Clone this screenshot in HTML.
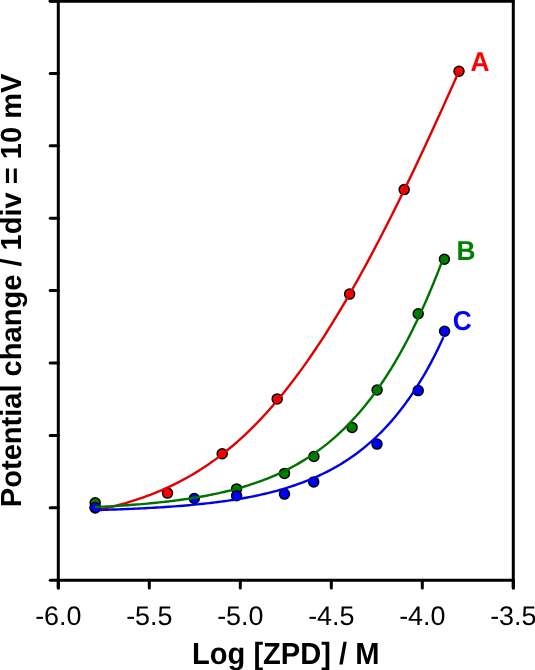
<!DOCTYPE html>
<html><head><meta charset="utf-8"><style>
html,body{margin:0;padding:0;background:#fff;}
svg{display:block;will-change:transform;}
text{font-family:"Liberation Sans",sans-serif;text-rendering:geometricPrecision;}
</style></head><body>
<svg width="535" height="670" viewBox="0 0 535 670">
<rect width="535" height="670" fill="#fff"/>
<g stroke="#000" stroke-width="3" stroke-linecap="round" fill="none">
<line x1="58.3" y1="1.2" x2="58.3" y2="588"/>
<line x1="58.3" y1="580.2" x2="513.3" y2="580.2"/>
<line x1="50.2" y1="1.2" x2="513.3" y2="1.2"/>
<line x1="513.3" y1="1.2" x2="513.3" y2="588"/>
<line x1="50.2" y1="580.2" x2="58.3" y2="580.2"/>
<line x1="50.2" y1="507.8" x2="58.3" y2="507.8"/>
<line x1="50.2" y1="435.4" x2="58.3" y2="435.4"/>
<line x1="50.2" y1="363.0" x2="58.3" y2="363.0"/>
<line x1="50.2" y1="290.6" x2="58.3" y2="290.6"/>
<line x1="50.2" y1="218.2" x2="58.3" y2="218.2"/>
<line x1="50.2" y1="145.8" x2="58.3" y2="145.8"/>
<line x1="50.2" y1="73.4" x2="58.3" y2="73.4"/>
<line x1="50.2" y1="1.0" x2="58.3" y2="1.0"/>
<line x1="58.3" y1="580.2" x2="58.3" y2="588"/>
<line x1="149.3" y1="580.2" x2="149.3" y2="588"/>
<line x1="240.3" y1="580.2" x2="240.3" y2="588"/>
<line x1="331.3" y1="580.2" x2="331.3" y2="588"/>
<line x1="422.3" y1="580.2" x2="422.3" y2="588"/>
<line x1="513.3" y1="580.2" x2="513.3" y2="588"/>
</g>
<circle cx="95.2" cy="508.0" r="5.0" fill="#ff0000" stroke="#000" stroke-width="1.5"/>
<circle cx="167.5" cy="493.1" r="5.0" fill="#ff0000" stroke="#000" stroke-width="1.5"/>
<circle cx="222.2" cy="453.8" r="5.0" fill="#ff0000" stroke="#000" stroke-width="1.5"/>
<circle cx="277.2" cy="398.9" r="5.0" fill="#ff0000" stroke="#000" stroke-width="1.5"/>
<circle cx="349.6" cy="294.1" r="5.0" fill="#ff0000" stroke="#000" stroke-width="1.5"/>
<circle cx="404.2" cy="189.6" r="5.0" fill="#ff0000" stroke="#000" stroke-width="1.5"/>
<circle cx="459.0" cy="71.3" r="5.0" fill="#ff0000" stroke="#000" stroke-width="1.5"/>
<path d="M95.20,510.60 L98.26,509.95 L101.31,509.29 L104.37,508.60 L107.43,507.89 L110.49,507.15 L113.54,506.38 L116.60,505.59 L119.66,504.77 L122.71,503.92 L125.77,503.04 L128.83,502.13 L131.89,501.18 L134.94,500.21 L138.00,499.20 L141.06,498.16 L144.11,497.08 L147.17,495.97 L150.23,494.82 L153.29,493.63 L156.34,492.40 L159.40,491.13 L162.46,489.82 L165.51,488.47 L168.57,487.07 L171.63,485.63 L174.69,484.14 L177.74,482.61 L180.80,481.02 L183.86,479.39 L186.91,477.71 L189.97,475.98 L193.03,474.19 L196.09,472.35 L199.14,470.46 L202.20,468.51 L205.26,466.50 L208.31,464.44 L211.37,462.31 L214.43,460.13 L217.49,457.88 L220.54,455.58 L223.60,453.21 L226.66,450.77 L229.71,448.27 L232.77,445.71 L235.83,443.08 L238.89,440.38 L241.94,437.62 L245.00,434.78 L248.06,431.88 L251.11,428.90 L254.17,425.85 L257.23,422.74 L260.29,419.55 L263.34,416.29 L266.40,412.95 L269.46,409.54 L272.51,406.06 L275.57,402.51 L278.63,398.88 L281.69,395.17 L284.74,391.39 L287.80,387.54 L290.86,383.61 L293.91,379.61 L296.97,375.54 L300.03,371.39 L303.09,367.16 L306.14,362.87 L309.20,358.49 L312.26,354.05 L315.31,349.54 L318.37,344.95 L321.43,340.29 L324.49,335.56 L327.54,330.76 L330.60,325.89 L333.66,320.95 L336.71,315.94 L339.77,310.87 L342.83,305.73 L345.89,300.52 L348.94,295.25 L352.00,289.92 L355.06,284.52 L358.11,279.06 L361.17,273.54 L364.23,267.96 L367.29,262.32 L370.34,256.62 L373.40,250.87 L376.46,245.06 L379.51,239.19 L382.57,233.28 L385.63,227.31 L388.69,221.29 L391.74,215.21 L394.80,209.09 L397.86,202.93 L400.91,196.71 L403.97,190.45 L407.03,184.14 L410.09,177.79 L413.14,171.40 L416.20,164.97 L419.26,158.50 L422.31,151.98 L425.37,145.43 L428.43,138.84 L431.49,132.22 L434.54,125.56 L437.60,118.87 L440.66,112.14 L443.71,105.38 L446.77,98.59 L449.83,91.77 L452.89,84.91 L455.94,78.03 L459.00,71.13" stroke="#e00000" fill="none" stroke-width="2.4" stroke-linejoin="round"/>
<circle cx="95.2" cy="502.7" r="5.0" fill="#008000" stroke="#000" stroke-width="1.5"/>
<circle cx="236.6" cy="488.9" r="5.0" fill="#008000" stroke="#000" stroke-width="1.5"/>
<circle cx="284.5" cy="473.4" r="5.0" fill="#008000" stroke="#000" stroke-width="1.5"/>
<circle cx="313.9" cy="456.5" r="5.0" fill="#008000" stroke="#000" stroke-width="1.5"/>
<circle cx="352.1" cy="427.4" r="5.0" fill="#008000" stroke="#000" stroke-width="1.5"/>
<circle cx="377.1" cy="390.0" r="5.0" fill="#008000" stroke="#000" stroke-width="1.5"/>
<circle cx="418.2" cy="313.7" r="5.0" fill="#008000" stroke="#000" stroke-width="1.5"/>
<circle cx="444.4" cy="259.3" r="5.0" fill="#008000" stroke="#000" stroke-width="1.5"/>
<circle cx="95.2" cy="507.4" r="5.0" fill="#0000ff" stroke="#000" stroke-width="1.5"/>
<circle cx="194.3" cy="498.5" r="5.0" fill="#0000ff" stroke="#000" stroke-width="1.5"/>
<circle cx="236.6" cy="495.8" r="5.0" fill="#0000ff" stroke="#000" stroke-width="1.5"/>
<circle cx="284.5" cy="494.1" r="5.0" fill="#0000ff" stroke="#000" stroke-width="1.5"/>
<circle cx="313.7" cy="481.9" r="5.0" fill="#0000ff" stroke="#000" stroke-width="1.5"/>
<circle cx="377.0" cy="444.1" r="5.0" fill="#0000ff" stroke="#000" stroke-width="1.5"/>
<circle cx="418.2" cy="390.6" r="5.0" fill="#0000ff" stroke="#000" stroke-width="1.5"/>
<circle cx="444.6" cy="331.2" r="5.0" fill="#0000ff" stroke="#000" stroke-width="1.5"/>
<g fill="none" stroke-width="2.4" stroke-linejoin="round">
<path d="M94.60,507.09 L97.54,506.95 L100.48,506.80 L103.42,506.65 L106.36,506.50 L109.30,506.33 L112.24,506.17 L115.18,505.99 L118.12,505.81 L121.06,505.62 L123.99,505.43 L126.93,505.22 L129.87,505.01 L132.81,504.80 L135.75,504.57 L138.69,504.34 L141.63,504.09 L144.57,503.84 L147.51,503.58 L150.45,503.31 L153.39,503.02 L156.33,502.73 L159.27,502.43 L162.21,502.11 L165.15,501.79 L168.09,501.45 L171.03,501.10 L173.97,500.73 L176.91,500.35 L179.85,499.96 L182.78,499.55 L185.72,499.13 L188.66,498.69 L191.60,498.24 L194.54,497.77 L197.48,497.28 L200.42,496.77 L203.36,496.25 L206.30,495.70 L209.24,495.14 L212.18,494.55 L215.12,493.94 L218.06,493.31 L221.00,492.66 L223.94,491.98 L226.88,491.28 L229.82,490.55 L232.76,489.80 L235.70,489.02 L238.64,488.20 L241.57,487.36 L244.51,486.49 L247.45,485.59 L250.39,484.65 L253.33,483.68 L256.27,482.67 L259.21,481.63 L262.15,480.55 L265.09,479.43 L268.03,478.27 L270.97,477.07 L273.91,475.82 L276.85,474.53 L279.79,473.19 L282.73,471.81 L285.67,470.38 L288.61,468.89 L291.55,467.35 L294.49,465.76 L297.43,464.11 L300.36,462.40 L303.30,460.64 L306.24,458.81 L309.18,456.91 L312.12,454.95 L315.06,452.92 L318.00,450.83 L320.94,448.65 L323.88,446.41 L326.82,444.08 L329.76,441.68 L332.70,439.20 L335.64,436.63 L338.58,433.97 L341.52,431.22 L344.46,428.38 L347.40,425.45 L350.34,422.42 L353.28,419.28 L356.22,416.05 L359.15,412.70 L362.09,409.25 L365.03,405.68 L367.97,402.00 L370.91,398.21 L373.85,394.28 L376.79,390.24 L379.73,386.07 L382.67,381.76 L385.61,377.32 L388.55,372.75 L391.49,368.03 L394.43,363.16 L397.37,358.15 L400.31,352.99 L403.25,347.68 L406.19,342.20 L409.13,336.57 L412.07,330.77 L415.01,324.80 L417.94,318.66 L420.88,312.35 L423.82,305.86 L426.76,299.18 L429.70,292.33 L432.64,285.28 L435.58,278.05 L438.52,270.62 L441.46,262.99 L444.40,255.16" stroke="#007200"/>
<path d="M95.20,510.09 L98.13,510.01 L101.05,509.93 L103.98,509.84 L106.91,509.75 L109.83,509.65 L112.76,509.56 L115.69,509.46 L118.61,509.35 L121.54,509.24 L124.47,509.13 L127.39,509.01 L130.32,508.89 L133.24,508.76 L136.17,508.63 L139.10,508.49 L142.02,508.35 L144.95,508.20 L147.88,508.05 L150.80,507.89 L153.73,507.72 L156.66,507.55 L159.58,507.38 L162.51,507.19 L165.44,507.00 L168.36,506.80 L171.29,506.60 L174.22,506.38 L177.14,506.16 L180.07,505.93 L183.00,505.69 L185.92,505.45 L188.85,505.19 L191.77,504.92 L194.70,504.65 L197.63,504.36 L200.55,504.06 L203.48,503.75 L206.41,503.43 L209.33,503.10 L212.26,502.76 L215.19,502.40 L218.11,502.03 L221.04,501.64 L223.97,501.24 L226.89,500.83 L229.82,500.40 L232.75,499.95 L235.67,499.48 L238.60,499.00 L241.53,498.50 L244.45,497.99 L247.38,497.45 L250.30,496.89 L253.23,496.31 L256.16,495.71 L259.08,495.09 L262.01,494.44 L264.94,493.77 L267.86,493.07 L270.79,492.35 L273.72,491.60 L276.64,490.82 L279.57,490.02 L282.50,489.18 L285.42,488.31 L288.35,487.41 L291.28,486.47 L294.20,485.50 L297.13,484.49 L300.06,483.45 L302.98,482.36 L305.91,481.24 L308.84,480.07 L311.76,478.86 L314.69,477.60 L317.61,476.30 L320.54,474.95 L323.47,473.54 L326.39,472.09 L329.32,470.58 L332.25,469.01 L335.17,467.38 L338.10,465.70 L341.03,463.95 L343.95,462.13 L346.88,460.25 L349.81,458.29 L352.73,456.27 L355.66,454.16 L358.59,451.98 L361.51,449.72 L364.44,447.37 L367.37,444.93 L370.29,442.41 L373.22,439.79 L376.14,437.07 L379.07,434.25 L382.00,431.32 L384.92,428.29 L387.85,425.14 L390.78,421.87 L393.70,418.49 L396.63,414.97 L399.56,411.33 L402.48,407.55 L405.41,403.63 L408.34,399.57 L411.26,395.35 L414.19,390.98 L417.12,386.44 L420.04,381.74 L422.97,376.87 L425.90,371.81 L428.82,366.57 L431.75,361.13 L434.67,355.49 L437.60,349.65 L440.53,343.58 L443.45,337.30" stroke="#0000e6"/>
</g>
<g font-size="26.9" fill="#000">
<text x="58.3" y="625" text-anchor="middle">-6.0</text>
<text x="149.3" y="625" text-anchor="middle">-5.5</text>
<text x="240.3" y="625" text-anchor="middle">-5.0</text>
<text x="331.3" y="625" text-anchor="middle">-4.5</text>
<text x="422.3" y="625" text-anchor="middle">-4.0</text>
<text x="513.3" y="625" text-anchor="middle">-3.5</text>
</g>
<text transform="translate(285.7,663.9) scale(1,1.05)" text-anchor="middle" font-size="29.1" font-weight="bold">Log [ZPD] / M</text>
<text transform="translate(21.0,290.35) rotate(-90) scale(1,1.0)" x="0" y="0" text-anchor="middle" font-size="29.07" font-weight="bold">Potential change / 1div = 10 mV</text>
<g font-weight="bold" font-size="26.3">
<text transform="translate(470.5,71.1) scale(1,1.04)" fill="#ff0000">A</text>
<text transform="translate(456.5,260.0) scale(1,1.04)" fill="#008000">B</text>
<text transform="translate(452.8,330.0) scale(1,1.04)" fill="#0000ff">C</text>
</g>
</svg>
</body></html>
